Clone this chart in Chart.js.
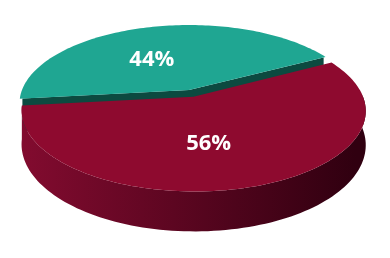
<!DOCTYPE html>
<html>
<head>
<meta charset="utf-8">
<script src="https://cdn.jsdelivr.net/npm/chart.js@4.4.1/dist/chart.umd.min.js"></script>
<style>
  html, body { margin: 0; padding: 0; background: #fff; }
</style>
</head>
<body>
<canvas id="shareChart" width="390" height="258"></canvas>
<script>
// data
const categories = ['Segment B', 'Segment A'];
const shares = [56, 44];

// colours per slice: top face, side (left -> right)
const topColors = ['#8e0a2f', '#1fa692'];
const sideColors = [['#820b2f', '#300010'], ['#0c4a40', '#0c4a40']];

// 3d view, relative to the pie radius Chart.js lays out
const view = { rx: 1.67, ry: 0.761, depth: 0.325, persp: 0.171 };
const labelRadius = [0.55, 0.49];
const labelNudge = [9, -12]; // degrees

function project(arc, u, v, z) {
    const R = arc.outerRadius;
    const s = 1 / (1 - view.persp * v);
    return [arc.x + view.rx * R * u * s, arc.y + (view.ry * R * v + view.depth * R * z) * s];
}

function slicePoint(arc, ang, r, z) {
    const mid = (arc.startAngle + arc.endAngle) / 2;
    const e = (arc.options.offset || 0) / 4 / arc.outerRadius;
    return project(arc, e * Math.cos(mid) + r * Math.cos(ang), e * Math.sin(mid) + r * Math.sin(ang), z);
}

function poly(ctx, pts, fill) {
    ctx.beginPath();
    ctx.moveTo(pts[0][0], pts[0][1]);
    for (let k = 1; k < pts.length; k++) ctx.lineTo(pts[k][0], pts[k][1]);
    ctx.closePath();
    ctx.fillStyle = fill;
    ctx.fill();
}

function cutFace(ctx, arc, a, fill) {
    // stop just short of the rim so the back slice never peeks out past the front one
    poly(ctx, [slicePoint(arc, a, 0, 0), slicePoint(arc, a, 0.985, 0), slicePoint(arc, a, 0.985, 1), slicePoint(arc, a, 0, 1)], fill);
}

function drawSlice(ctx, arc, i) {
    const a0 = arc.startAngle, a1 = arc.endAngle;
    const steps = 120;
    const side = ctx.createLinearGradient(arc.x - view.rx * arc.outerRadius, 0, arc.x + view.rx * arc.outerRadius, 0);
    side.addColorStop(0, sideColors[i][0]);
    side.addColorStop(1, sideColors[i][1]);

    // cut faces that look toward us
    if (Math.cos(a0) < 0) cutFace(ctx, arc, a0, sideColors[i][0]);
    if (Math.cos(a1) > 0) cutFace(ctx, arc, a1, sideColors[i][1]);

    // outer wall, front half only (slices at the back are hidden behind the front ones)
    if (Math.sin((a0 + a1) / 2) > 0) {
        let run = [];
        const flush = () => {
            if (run.length > 1) {
                const top = run.map(a => slicePoint(arc, a, 1, 0));
                const bottom = run.slice().reverse().map(a => slicePoint(arc, a, 1, 1));
                poly(ctx, top.concat(bottom), side);
            }
            run = [];
        };
        for (let k = 0; k <= steps; k++) {
            const a = a0 + (a1 - a0) * k / steps;
            if (Math.sin(a) > -0.03) run.push(a); else flush();
        }
        flush();
    }

    // top face
    const pts = [slicePoint(arc, a0, 0, 0)];
    for (let k = 0; k <= steps; k++) pts.push(slicePoint(arc, a0 + (a1 - a0) * k / steps, 1, 0));
    poly(ctx, pts, topColors[i]);
}

const pie3d = {
    id: 'pie3d',
    beforeDatasetsDraw(chart) {
        const ctx = chart.ctx;
        const arcs = chart.getDatasetMeta(0).data;
        const midV = a => Math.sin((a.startAngle + a.endAngle) / 2);
        const order = arcs.map((a, i) => i).sort((i, j) => midV(arcs[i]) - midV(arcs[j]));
        ctx.save();
        order.forEach(i => drawSlice(ctx, arcs[i], i));
        ctx.restore();
        return false;
    },
    afterDraw(chart) {
        const ctx = chart.ctx;
        const arcs = chart.getDatasetMeta(0).data;
        const total = shares.reduce((s, v) => s + v, 0);
        ctx.save();
        ctx.fillStyle = '#ffffff';
        ctx.font = 'bold 22px "Open Sans", "Liberation Sans", sans-serif';
        ctx.textAlign = 'center';
        ctx.textBaseline = 'middle';
        arcs.forEach((arc, i) => {
            const ang = (arc.startAngle + arc.endAngle) / 2 + labelNudge[i] * Math.PI / 180;
            const p = slicePoint(arc, ang, labelRadius[i], 0);
            ctx.fillText(Math.round(shares[i] / total * 100) + '%', p[0], p[1]);
        });
        ctx.restore();
    }
};

const ctx = document.getElementById('shareChart').getContext('2d');
const shareChart = new Chart(ctx, {
    type: 'pie',
    data: {
        labels: categories,
        datasets: [{
            data: shares,
            backgroundColor: topColors,
            borderWidth: 0,
            offset: [36, 0]
        }]
    },
    options: {
        responsive: false,
        animation: false,
        radius: 100,
        rotation: 62,
        layout: { padding: { left: 0, right: 12, top: 0, bottom: 78 } },
        plugins: {
            legend: { display: false },
            tooltip: { enabled: false }
        }
    },
    plugins: [pie3d]
});
</script>
</body>
</html>
